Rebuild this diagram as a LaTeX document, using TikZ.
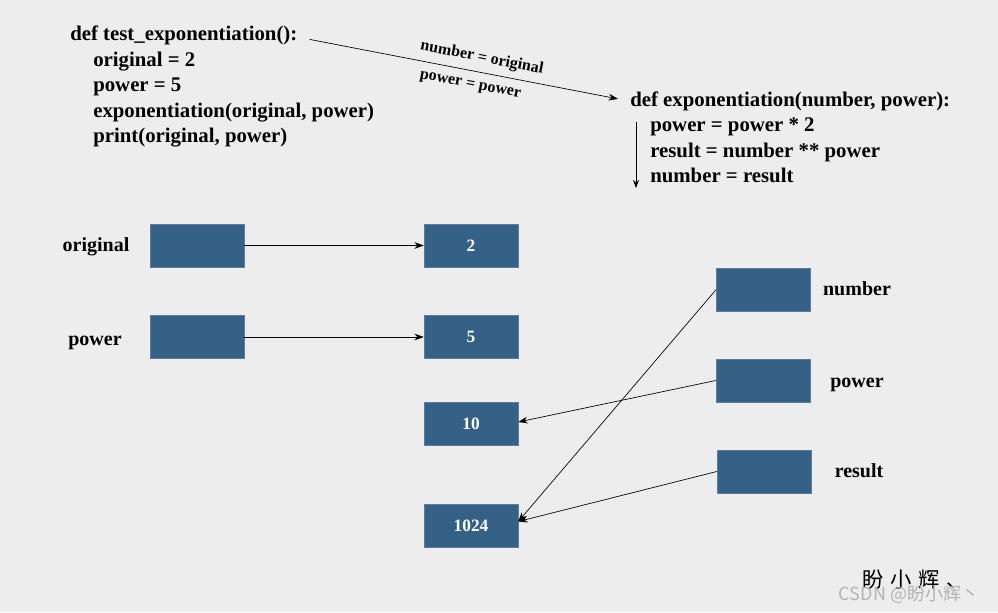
\documentclass[tikz,border=0pt]{standalone}
\usepackage{fontspec}
\setmainfont{Liberation Serif}
\newfontfamily\cjkfont{Noto Sans CJK SC}
\usetikzlibrary{arrows.meta}
\definecolor{boxblue}{HTML}{366186}
\definecolor{boxedge}{HTML}{5B7C9C}
\definecolor{paper}{HTML}{EDEDED}
\definecolor{markgray}{HTML}{B4B4B4}

\tikzset{
  varbox/.style={draw=boxedge, fill=boxblue, minimum width=70.5pt, minimum height=32.25pt,
    inner sep=0pt, text=white, font=\fontsize{13}{15}\selectfont\bfseries},
  codeline/.style={anchor=base west, inner sep=0pt, font=\fontsize{15.6}{18}\selectfont\bfseries},
  varname/.style={anchor=base, inner sep=0pt, font=\fontsize{15}{18}\selectfont\bfseries},
  passlabel/.style={inner sep=0pt, font=\fontsize{12}{13}\selectfont\bfseries},
  ptr/.style={-{Stealth[length=7pt,width=5pt]}, line width=0.5pt}
}

\begin{document}
\begin{tikzpicture}[x=0.75pt,y=-0.75pt]
	\fill [paper] (0,0) rectangle (998,612);
	\useasboundingbox (0,0) rectangle (998,612);

	\node [codeline] (head1) at (70,40.5) {def test\_exponentiation():};
	\node [codeline] (l1a) at (93,66) {original = 2};
	\node [codeline] (l1b) at (93,91.5) {power = 5};
	\node [codeline] (l1c) at (93,117) {exponentiation(original, power)};
	\node [codeline] (l1d) at (93,142.5) {print(original, power)};

	\node [codeline] (head2) at (630,106) {def exponentiation(number, power):};
	\node [codeline] (l2a) at (650,131.5) {power = power * 2};
	\node [codeline] (l2b) at (650,157) {result = number ** power};
	\node [codeline] (l2c) at (650,182.5) {number = result};

	\draw [ptr] ([xshift=9pt,yshift=-3pt]head1.east) --
		node [passlabel,sloped,above=5pt,pos=0.55] {number = original}
		node [passlabel,sloped,below=7pt,pos=0.53] {power = power}
		([xshift=-9pt,yshift=1.5pt]head2.west);

	\coordinate (flowtop) at (636,122);
	\coordinate (flowend) at (636,188);
	\draw [-{Stealth[length=6pt,width=4.5pt]}, line width=0.5pt] (flowtop) -- (flowend);

	\node [varname] (nOrig) at (96,251.5) {original};
	\node [varname] (nPow) at (95,345) {power};
	\node [varbox] (bOrig) at (197,245.5) {};
	\node [varbox] (bPow) at (197,337) {};

	\node [varbox] (v2) at (471,245.5) {2};
	\node [varbox] (v5) at (471,337) {5};
	\node [varbox] (v10) at (471,424) {10};
	\node [varbox] (v1024) at (471,525.5) {1024};

	\node [varbox] (bNum) at (763,290) {};
	\node [varbox] (bPowR) at (763,380.5) {};
	\node [varbox] (bRes) at (764,471.5) {};
	\node [varname] (nNum) at (857,295.5) {number};
	\node [varname] (nPowR) at (857,387.5) {power};
	\node [varname] (nRes) at (859,477.5) {result};

	\draw [ptr] (bOrig) -- (v2);
	\draw [ptr] (bPow) -- (v5);
	\draw [ptr] (bNum.west) -- ([yshift=3pt]v1024.east);
	\draw [ptr] (bPowR.west) -- ([yshift=1.5pt]v10.east);
	\draw [ptr] (bRes.west) -- ([yshift=3pt]v1024.east);

	\node [inner sep=0pt, font=\cjkfont\fontsize{16}{18}\selectfont] (sign) at (915,580) {盼\hspace{5pt}小\hspace{5pt}辉\hspace{5pt}、};
	\node [inner sep=0pt, text=markgray, font=\cjkfont\fontsize{13.5}{16}\selectfont] (mark) at (909,595) {CSDN @盼小辉丶};
\end{tikzpicture}
\end{document}
